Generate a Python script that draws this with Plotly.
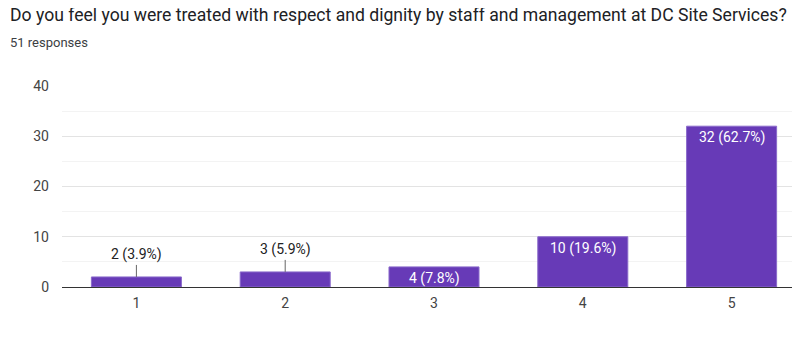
import plotly.graph_objects as go

categories = ["1", "2", "3", "4", "5"]
counts = [2, 3, 4, 10, 32]
labels = ["2 (3.9%)", "3 (5.9%)", "4 (7.8%)", "10 (19.6%)", "32 (62.7%)"]
outside = [True, True, False, False, False]
y_ticks = [0, 10, 20, 30, 40]

title = "Do you feel you were treated with respect and dignity by staff and management at DC Site Services?"
subtitle = "51 responses"

FONT = "Roboto, Arial, sans-serif"
PURPLE = "#673AB7"

# the page body has an 8px default margin; compensate so the picture lines up
OFF = 8
W, H = 806 - OFF, 358 - OFF
ml, mr, mt, mb = 62 - OFF, 0, 86 - OFF, 358 - 287
pw, ph = W - ml - mr, H - mt - mb

fig = go.Figure()
fig.add_trace(go.Bar(
    x=categories,
    y=counts,
    marker=dict(color=PURPLE, line=dict(color="#8a6acb", width=1)),
    width=0.605,
    hoverinfo="skip",
))

annotations = []
for i, (v, t, o) in enumerate(zip(counts, labels, outside)):
    if o:
        annotations.append(dict(
            x=i, y=v, xref="x", yref="y", text=t,
            showarrow=True, arrowhead=0, arrowwidth=1, arrowcolor="#666666",
            ax=0, ay=-22, standoff=0,
            font=dict(family=FONT, size=14, color="#222222"),
        ))
    else:
        annotations.append(dict(
            x=i, y=v, xref="x", yref="y", text=t,
            showarrow=False, yanchor="top", yshift=-1,
            font=dict(family=FONT, size=14, color="white"),
        ))


def px_to_paper(x, y):
    return (x - OFF - ml) / pw, 1 - (y - OFF - mt) / ph


tx, ty = px_to_paper(8, 15)
annotations.append(dict(
    x=tx, y=ty, xref="paper", yref="paper", xanchor="left", yanchor="middle",
    text=title, showarrow=False,
    font=dict(family=FONT, size=17.6, color="#202124"),
))
sx, sy = px_to_paper(8, 43)
annotations.append(dict(
    x=sx, y=sy, xref="paper", yref="paper", xanchor="left", yanchor="middle",
    text=subtitle, showarrow=False,
    font=dict(family=FONT, size=13, color="#3c4043"),
))

fig.update_layout(
    width=W, height=H,
    margin=dict(l=ml, r=mr, t=mt, b=mb),
    paper_bgcolor="white", plot_bgcolor="white",
    showlegend=False,
    annotations=annotations,
    xaxis=dict(
        type="category",
        showline=True, linecolor="#333333", linewidth=1,
        showgrid=False, ticks="",
        tickfont=dict(family=FONT, size=14, color="#444444"),
        ticklabelstandoff=3,
    ),
    yaxis=dict(
        range=[0, 40],
        tickvals=y_ticks,
        showgrid=True, gridcolor="#e3e3e3", gridwidth=1,
        zeroline=False, showline=False, ticks="",
        tickfont=dict(family=FONT, size=14, color="#444444"),
        ticklabelstandoff=12,
        minor=dict(dtick=5, tick0=0, showgrid=True, gridcolor="#f3f3f3", gridwidth=1),
    ),
)

fig.write_html("out.html")
